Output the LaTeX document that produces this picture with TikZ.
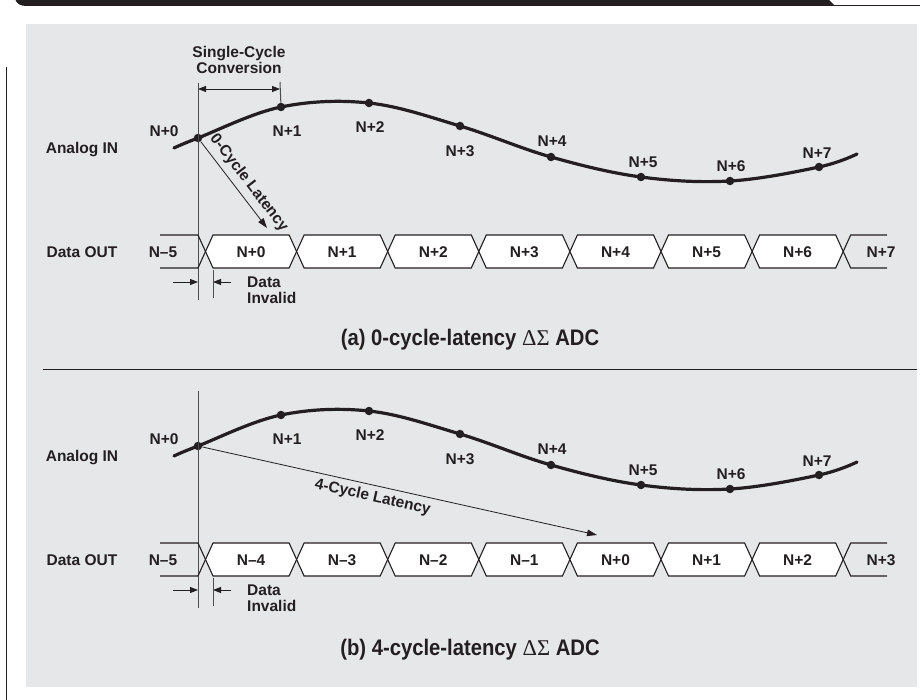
\documentclass[tikz,border=0pt]{standalone}
\usepackage{fontspec}
\setmainfont{Liberation Sans}
\newfontfamily\condensedfont[FakeStretch=0.9]{Liberation Sans}
\newfontfamily\symbolfont{Liberation Serif}
\usetikzlibrary{arrows.meta}

\definecolor{ink}{HTML}{231F20}
\definecolor{panelgray}{HTML}{E6E7E9}
\definecolor{guide}{HTML}{4D4D4F}

\tikzset{
  lbl/.style={font=\fontsize{15.5}{18}\selectfont\bfseries, text=ink, inner sep=0pt,
    text height=11pt, text depth=0pt},
  caption/.style={font=\condensedfont\fontsize{22.5}{25}\selectfont\bfseries, text=ink,
    inner sep=0pt, text height=16pt, text depth=0pt},
  sample/.style={circle, fill=ink, inner sep=0pt, minimum size=8.5pt},
  signal/.style={ink, line width=3.2pt, line cap=round},
  guideline/.style={guide, line width=1pt},
  bus/.style={ink, line width=1.1pt, line join=miter},
  measure/.style={ink, line width=0.9pt},
  headtip/.tip={Triangle[length=8pt,width=6pt]},
  latency/.style={ink, line width=0.8pt, -{Triangle[length=10pt,width=6.5pt]}},
}

% One timing row: waveform with samples, sampling instant, data bus.
% #1: the seven complete data words (index/label), #2: the word after the last edge
\newcommand\adcrow[2]{%
  \draw[signal] plot[smooth, tension=0.6] coordinates {(174,148) (198,138) (281,107)
    (369,103) (460,126) (551,157) (641,177) (730,181) (819,167) (857,154)};
  \foreach \i/\x/\y/\lx/\ly in {0/198/138/164/131, 1/281/107/287/131, 2/369/103/370/127,
      3/460/126/460/151, 4/551/157/552/141, 5/641/177/643/162, 6/730/181/731/166,
      7/819/167/817/153} {
    \node[sample] (s\i) at (\x,\y) {};
    \node[lbl] (sl\i) at (\lx,\ly) {N+\i};
  }
  \node[lbl] (ain) at (82,148) {Analog IN};
  \node[lbl] (dout) at (82,252) {Data OUT};
  % sampling instant
  \coordinate (g1) at (198,83);
  \coordinate (g2) at (198,300);
  \draw[guideline] (g1) -- (g2);
  % data bus
  \draw[bus] (160,235) -- (198,235) -- (205.5,251.5) -- (198,268) -- (160,268);
  \node[lbl] (wprev) at (163,252) {N–5};
  \foreach \k/\txt in {#1} {
    \pgfmathsetmacro\xa{205.5+91.1*\k}
    \pgfmathsetmacro\xb{\xa+91.1}
    \draw[bus, fill=white] (\xa,251.5) -- (\xa+7.5,235) -- (\xb-7.5,235) -- (\xb,251.5)
      -- (\xb-7.5,268) -- (\xa+7.5,268) -- cycle;
    \node[lbl] (w\k) at ({\xa+45.55},252) {\txt};
  }
  \draw[bus] (887,235) -- (850.7,235) -- (843.2,251.5) -- (850.7,268) -- (887,268);
  \node[lbl] (wlast) at (881,252) {#2};
  % invalid-data window
  \coordinate (di1) at (173,282);
  \coordinate (di2) at (198,282);
  \draw[measure, -headtip] (di1) -- (di2);
  \coordinate (di3) at (231,282);
  \coordinate (di4) at (213,282);
  \draw[measure, -headtip] (di3) -- (di4);
  \coordinate (t1) at (213,270);
  \coordinate (t2) at (213,298);
  \draw[guideline] (t1) -- (t2);
  \node[lbl, anchor=west] (di) at (247,282) {Data};
  \node[lbl, anchor=west] (inv) at (247,298) {Invalid};
}

\begin{document}
\begin{tikzpicture}[x=1pt, y=-1pt]
  \useasboundingbox (0,0) rectangle (920,700);

  % page furniture
  \fill[ink] (15,-1) .. controls (17,4) and (20,6) .. (27,6) -- (835,6) -- (828,-1) -- cycle;
  \draw[ink, line width=1.3pt] (833,5.3) -- (920,5.3);
  \draw[ink, line width=1.6pt] (6.5,67) -- (6.5,701);
  \fill[panelgray] (26,24) rectangle (917,687);

  % (a) zero-cycle latency
  \begin{scope}[name prefix=a-]
    \adcrow{0/N+0, 1/N+1, 2/N+2, 3/N+3, 4/N+4, 5/N+5, 6/N+6}{N+7}
    \coordinate (d1) at (198,89);
    \coordinate (d2) at (280,89);
    \draw[measure, headtip-headtip] (d1) -- (d2);
    \coordinate (k) at (280,82);
    \draw[guideline] (k) -- (s1);
    \node[lbl] (sc) at (239,52) {Single-Cycle};
    \node[lbl] (cv) at (239,68) {Conversion};
    \coordinate (lat) at (267,228);
    \draw[latency] (s0) -- (lat);
    \node[lbl, rotate=-52.5] (latl) at (250,182) {0-Cycle Latency};
  \end{scope}
  \node[caption] (ta) at (470,337) {(a) 0-cycle-latency {\symbolfont\mdseries ΔΣ} ADC};

  \coordinate (sep1) at (43,369);
  \coordinate (sep2) at (917,369);
  \draw[ink, line width=1pt] (sep1) -- (sep2);

  % (b) four-cycle latency
  \begin{scope}[yshift=-308pt, name prefix=b-]
    \adcrow{0/N–4, 1/N–3, 2/N–2, 3/N–1, 4/N+0, 5/N+1, 6/N+2}{N+3}
    \coordinate (lat) at (597,227);
    \draw[latency] (s0) -- (lat);
    \node[lbl, rotate=-12.6] (latl) at (373,188) {4-Cycle Latency};
  \end{scope}
  \node[caption] (tb) at (470,647) {(b) 4-cycle-latency {\symbolfont\mdseries ΔΣ} ADC};
\end{tikzpicture}
\end{document}
